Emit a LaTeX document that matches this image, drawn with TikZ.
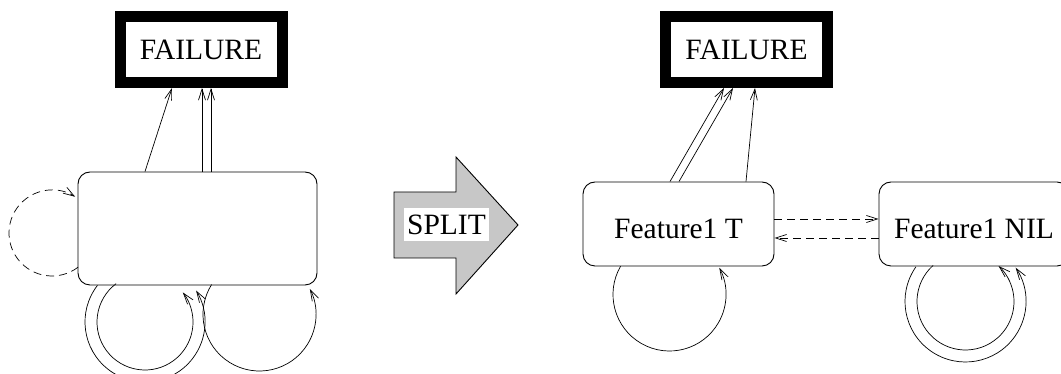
\documentclass[tikz,border=0pt]{standalone}
\usepackage{fontspec}
\setmainfont{Liberation Serif}
\usetikzlibrary{arrows.meta}
\definecolor{splitgray}{gray}{0.78}

\begin{document}
\begin{tikzpicture}[x=1pt, y=1pt,
    >={Straight Barb[length=11pt,width=7pt]},
    lbl/.style={font=\fontsize{29.5}{35}\selectfont},
    fail/.style={lbl, draw, line width=11pt, minimum width=162pt, minimum height=66pt, inner sep=0pt},
    state/.style={lbl, draw, line width=.9pt, rounded corners=12pt, inner sep=0pt,
      text height=29.5pt, text depth=0pt},
    conn/.style={line width=.7pt, ->},
    dashconn/.style={conn, dash pattern=on 8pt off 5pt}]
  \useasboundingbox (0, 0) rectangle (1061, 374);

  % before the split
  \node[fail] (fail1) at (201, 324.5) {FAILURE};
  \node[state, minimum width=239pt, minimum height=113pt] (box1) at (197.5, 145.5) {};

  \draw[conn] ([xshift=-52.5pt]box1.north) -- ([xshift=-29pt]fail1.south);
  \draw[conn] ([xshift=4.5pt]box1.north) -- ([xshift=1pt]fail1.south);
  \draw[conn] ([xshift=13.5pt]box1.north) -- ([xshift=10pt]fail1.south);

  \coordinate (loopA) at (145, 52);
  \coordinate (loopB) at (259.5, 59.5);
  \coordinate (loopC) at (52, 141);
  \draw[conn] (loopA) ++(127:48) arc[start angle=127, end angle=398, radius=48];
  \draw[conn] (loopA) ++(142.4:60) arc[start angle=142.4, end angle=391.6, radius=60];
  \draw[conn] (loopB) ++(148:56.5) arc[start angle=148, end angle=387, radius=56.5];
  \draw[dashconn] (loopC) ++(-52.6:43) arc[start angle=-52.6, end angle=-302.6, radius=43];

  % split arrow
  \draw[line width=.9pt, fill=splitgray] (394, 182) -- (456, 182) -- (456, 217) -- (518, 149)
    -- (456, 80) -- (456, 116) -- (394, 116) -- cycle;
  \node[lbl, fill=white, inner xsep=3.5pt, inner ysep=6.75pt] (split) at (446.5, 149.5) {SPLIT};

  % after the split
  \node[fail] (fail2) at (746.5, 324.5) {FAILURE};
  \node[state, minimum width=191pt, minimum height=84pt] (box2) at (678.5, 150) {Feature1 T};
  \node[state, minimum width=190pt, minimum height=84pt] (box3) at (974, 150) {Feature1 NIL};

  \draw[conn] ([xshift=-8.5pt]box2.north) -- ([xshift=-22.5pt]fail2.south);
  \draw[conn] ([xshift=.5pt]box2.north) -- ([xshift=-13.5pt]fail2.south);
  \draw[conn] ([xshift=67.5pt]box2.north) -- ([xshift=8.5pt]fail2.south);

  \draw[dashconn] ([yshift=5pt]box2.east) -- ([yshift=5pt]box3.west);
  \draw[dashconn] ([yshift=-14pt]box3.west) -- ([yshift=-14pt]box2.east);

  \coordinate (loopT) at (669.5, 79.5);
  \coordinate (loopN) at (965.5, 72.5);
  \draw[conn] (loopT) ++(150:56.5) arc[start angle=150, end angle=388.2, radius=56.5];
  \draw[conn] (loopN) ++(132:48.5) arc[start angle=132, end angle=407, radius=48.5];
  \draw[conn] (loopN) ++(145:60.5) arc[start angle=145, end angle=394, radius=60.5];
\end{tikzpicture}
\end{document}
